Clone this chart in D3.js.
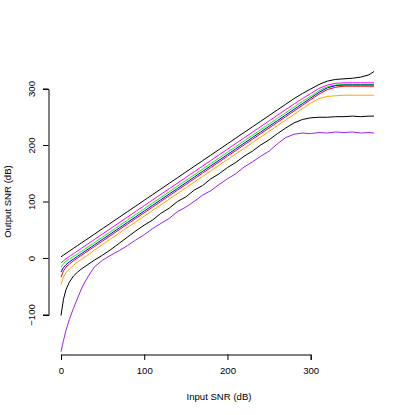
<!DOCTYPE html>
<html>
<head>
<meta charset="utf-8">
<script src="https://cdn.jsdelivr.net/npm/d3@7"></script>
<style>
  body { margin: 0; background: #fff; }
  text { font-family: "Liberation Sans", Arial, sans-serif; font-size: 9.6px; fill: #000; }
</style>
</head>
<body>
<div id="chart"></div>
<script>
// input SNR grid (dB)
var inputSNR = [0, 3, 6, 10, 15, 20, 25, 30, 40, 50, 60, 70, 80, 90, 100, 110, 120, 130, 140, 150,
  160, 170, 180, 190, 200, 210, 220, 230, 240, 250, 260, 270, 280, 290, 300, 310, 320, 330, 340,
  350, 360, 370, 376];

// output SNR per series
var outBlackTop = [3, 6, 9, 13, 18, 23, 28, 33, 43, 53, 63, 73, 83, 93, 103, 113, 123, 133, 143, 153,
  163, 173, 183, 193, 203, 213, 223, 233, 243, 253, 263, 273, 283, 292, 300, 308, 314, 317, 318,
  319, 321, 325, 331];
var outMagenta = [-8, -4, -0.5, 3.5, 8.5, 13.5, 18.5, 23.5, 33.5, 43.5, 53.5, 63.5, 73.5, 83.5, 93.5, 103.5, 113.5, 123.5, 133.5, 143.5,
  153.5, 163.5, 173.5, 183.5, 193.5, 203.5, 213.5, 223.5, 233.5, 243.5, 253.5, 263.5, 273.5, 283, 292, 301, 307, 310, 311,
  311, 311, 311, 311];
var outGreen = [-15, -9, -5, -1, 3.5, 8, 13, 18, 28, 38, 48, 58, 68, 78, 88, 98, 108, 118, 128, 138,
  148, 158, 168, 178, 188, 198, 208, 218, 228, 238, 248, 258, 268, 278, 287, 297, 304, 307, 308,
  308, 308, 308, 308];
var outBlue = [-24, -16, -11, -6, -1, 4, 9, 14, 24, 34, 44, 54, 64, 74, 84, 94, 104, 114, 124, 134,
  144, 154, 164, 174, 184, 194, 204, 214, 224, 234, 244, 254, 264, 274, 284, 294, 302, 306, 307,
  307, 307, 307, 307];
var outRed = [-33, -22, -15, -10, -4, 1, 6, 11, 21, 31, 41, 51, 61, 71, 81, 91, 101, 111, 121, 131,
  141, 151, 161, 171, 181, 191, 201, 211, 221, 231, 241, 251, 261, 271, 281, 291, 299, 303, 305,
  305, 305, 305, 305];
var outOrange = [-46, -33, -25, -19, -12, -6, -1, 4, 14.5, 25, 35, 45, 55, 65, 75, 85, 95, 105, 115, 125,
  135, 145, 155, 165, 175, 185, 195, 205, 215, 225, 235, 245, 255, 265, 275, 283, 287, 288, 289,
  289, 289, 289, 289];
var outBlackLow = [-101, -72, -55, -42, -31, -24, -18, -13, -3, 6, 16, 27, 38, 49, 59, 68, 80, 89, 101, 109,
  121, 129, 141, 150, 161, 170, 181, 190, 201, 210, 221, 231, 240, 246, 249, 250, 250, 251, 251,
  252, 251, 252, 252];
var outPurple = [-165, -145, -127, -108, -88, -70, -52, -38, -15, -3, 6, 14, 23, 33, 42, 53, 62, 71, 83, 91,
  101, 112, 120, 131, 141, 150, 162, 171, 181, 190, 203, 214, 220, 222, 221, 223, 222, 224, 223,
  224, 222, 223, 222];

var xTicks = [0, 100, 200, 300];
var yTicks = [-100, 0, 100, 200, 300];

var series = [
  {values: outBlackTop, color: "#000000"},
  {values: outMagenta, color: "#FF00FF"},
  {values: outGreen, color: "#00FF00"},
  {values: outBlue, color: "#0000FF"},
  {values: outRed, color: "#FF0000"},
  {values: outOrange, color: "#FFA500"},
  {values: outBlackLow, color: "#000000"},
  {values: outPurple, color: "#A020F0"}
];

var width = 415, height = 415;

var svg = d3.select("#chart")
  .append("svg")
    .attr("width", width)
    .attr("height", height);

// scales fixed by the tick positions of the original plot
var x = d3.scaleLinear().domain([0, 300]).range([61, 310.7]);
var y = d3.scaleLinear().domain([-100, 300]).range([315, 89]);

var line = d3.line()
  .x(function(d, i) { return x(inputSNR[i]); })
  .y(function(d) { return y(d); });

series.forEach(function(s) {
  svg.append("path")
    .datum(s.values)
    .attr("fill", "none")
    .attr("stroke", s.color)
    .attr("stroke-width", 1)
    .attr("stroke-linejoin", "round")
    .attr("d", line);
});

// x axis
var xAxis = svg.append("g")
  .attr("transform", "translate(0,354.5)")
  .call(d3.axisBottom(x).tickValues(xTicks).tickSize(5.5).tickPadding(7).tickFormat(d3.format("d")));
xAxis.select(".domain").attr("stroke", "#000");
xAxis.selectAll("text").style("font-size", "9.6px").style("font-family", "Liberation Sans, Arial, sans-serif");

// y axis
var yAxis = svg.append("g")
  .attr("transform", "translate(48.5,0)")
  .call(d3.axisLeft(y).tickValues(yTicks).tickSize(5.5).tickFormat(d3.format("d")));
yAxis.selectAll("text")
  .attr("transform", function(d) { return "translate(-11," + y(d) + ") rotate(-90)"; })
  .attr("x", 0).attr("y", 0).attr("dy", "0")
  .attr("text-anchor", "middle")
  .style("font-size", "9.6px").style("font-family", "Liberation Sans, Arial, sans-serif");
yAxis.selectAll(".tick").attr("transform", null);
yAxis.selectAll(".tick line")
  .attr("y1", function(d) { return y(d); })
  .attr("y2", function(d) { return y(d); });
yAxis.selectAll(".tick text")
  .attr("transform", function(d) { return "translate(-14," + y(d) + ") rotate(-90)"; });

// axis titles
svg.append("text")
  .attr("x", 219).attr("y", 399.5)
  .attr("text-anchor", "middle")
  .text("Input SNR (dB)");

svg.append("text")
  .attr("transform", "translate(11,201.5) rotate(-90)")
  .attr("text-anchor", "middle")
  .text("Output SNR (dB)");
</script>
</body>
</html>
